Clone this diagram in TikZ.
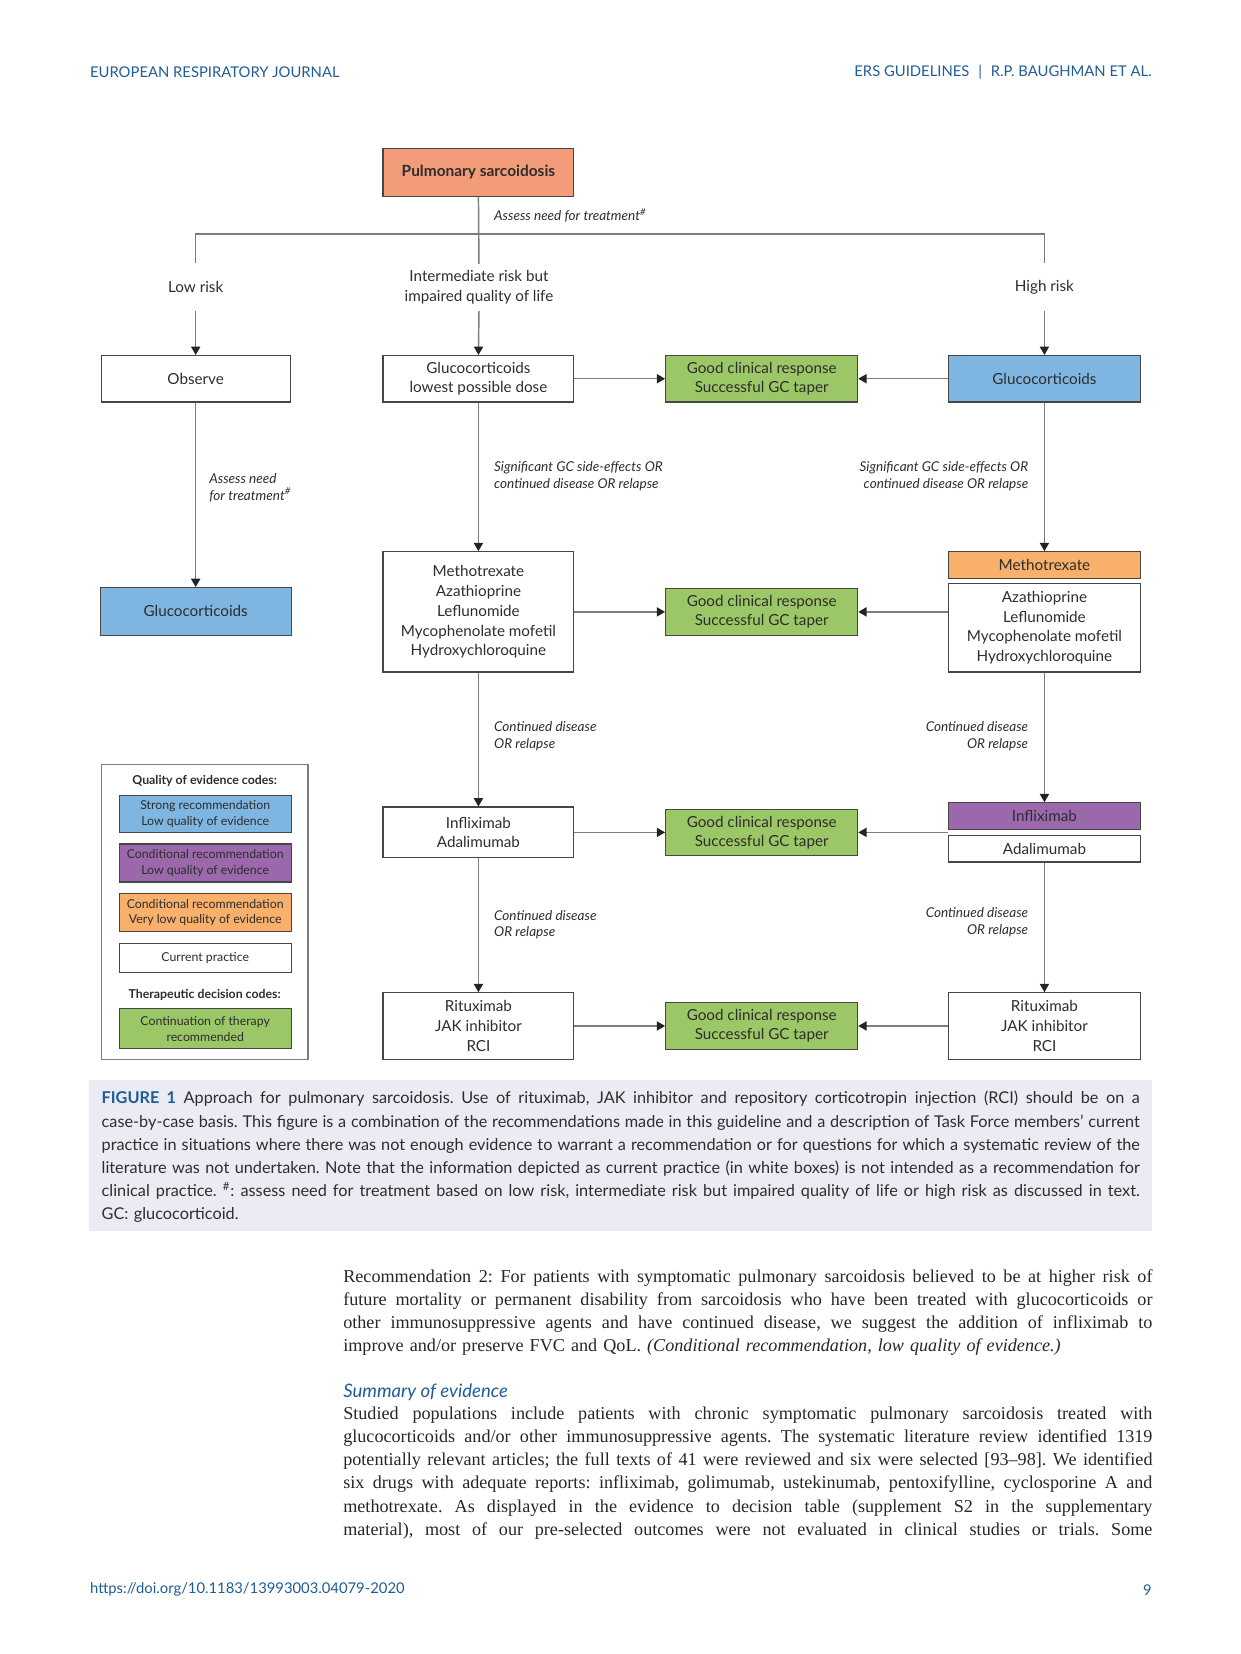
\documentclass[tikz,border=0pt]{standalone}
\usepackage{fontspec}
\setmainfont{Liberation Serif}
\newfontfamily\figsans{Lato}
\usetikzlibrary{arrows.meta}
\newdimen\upx \upx=0.5058pt
\definecolor{salmon}{RGB}{242,156,122}
\definecolor{bluebox}{RGB}{126,182,225}
\definecolor{greenbox}{RGB}{156,199,102}
\definecolor{purplebox}{RGB}{156,104,172}
\definecolor{orangebox}{RGB}{248,176,106}
\definecolor{bordc}{RGB}{70,70,70}
\definecolor{linec}{RGB}{125,125,125}
\definecolor{arrc}{RGB}{35,35,35}
\definecolor{txtc}{RGB}{45,45,45}
\definecolor{hdrblue}{RGB}{32,92,150}
\definecolor{capbg}{RGB}{235,236,243}
\newcommand{\jl}[2]{\makebox[#1][s]{\spaceskip=0pt\xspaceskip=0pt\frenchspacing #2}}
\begin{document}
\begin{tikzpicture}[x=0.5058pt,y=-0.5058pt,
  fbox/.style={draw=bordc,line width=0.55pt,inner sep=0pt,align=center,text=txtc,
    font=\figsans\fontsize{7.3}{9.5}\selectfont},
  gbox/.style={fbox,fill=greenbox,minimum width=182\upx,minimum height=44\upx,
    font=\figsans\fontsize{7.3}{9.2}\selectfont},
  lbox/.style={fbox,minimum width=163\upx,font=\figsans\fontsize{5.9}{7.6}\selectfont},
  lab/.style={inner sep=0pt,align=center,text=txtc,minimum height=44\upx,
    font=\figsans\fontsize{7.3}{9.5}\selectfont},
  itl/.style={inner sep=0pt,text=txtc,font=\figsans\itshape\fontsize{6.5}{8.1}\selectfont},
  conn/.style={draw=linec,line width=0.7pt},
  arr/.style={conn,-{Triangle[length=4pt,width=4.4pt,color=arrc]}},
  hdr/.style={inner sep=0pt,text=hdrblue,font=\figsans\fontsize{7.1}{9}\selectfont}
]
\useasboundingbox (0,0) rectangle (1176.3,1567.8);

% header
\node[hdr,anchor=west] (hl) at (85,68) {EUROPEAN RESPIRATORY JOURNAL};
\node[hdr,anchor=east] (hr) at (1092,68) {ERS GUIDELINES\hspace{0.6em}|\hspace{0.6em}R.P. BAUGHMAN ET AL.};

% top
\node[fbox,fill=salmon,minimum width=181\upx,minimum height=45\upx,
  font=\figsans\bfseries\fontsize{7.4}{9}\selectfont] (ps) at (453.5,163.5) {Pulmonary sarcoidosis};
\node[itl,anchor=west] (assess) at (468,204) {Assess need for treatment\textsuperscript{\#}};

\node[lab] (low) at (185.5,272) {Low risk};
\node[lab] (im) at (454,272.5) {Intermediate risk but\\impaired quality of life};
\node[lab] (high) at (990,272) {High risk};
\coordinate (hline) at (0,222);

\draw[conn] (ps.south) -- (im.north);
\draw[conn] (low.north) -- (low.north |- hline) -- (high.north |- hline) -- (high.north);

% row 1
\node[fbox,minimum width=179\upx,minimum height=44\upx] (obs) at (185.5,359) {Observe};
\node[fbox,minimum width=181\upx,minimum height=44\upx] (gcl) at (453.5,359) {Glucocorticoids\\lowest possible dose};
\node[gbox] (g1) at (722,359) {Good clinical response\\Successful GC taper};
\node[fbox,fill=bluebox,minimum width=182\upx,minimum height=44\upx] (gch) at (990,359) {Glucocorticoids};

\draw[arr] (low.south) -- (obs.north);
\draw[arr] (im.south) -- (gcl.north);
\draw[arr] (high.south) -- (gch.north);
\draw[arr] (gcl.east) -- (g1.west);
\draw[arr] (gch.west) -- (g1.east);

% row 2
\node[fbox,fill=bluebox,minimum width=181\upx,minimum height=45\upx] (gcb) at (185.5,579.5) {Glucocorticoids};
\node[fbox,minimum width=181\upx,minimum height=114\upx] (m2) at (453.5,580) {Methotrexate\\Azathioprine\\Leflunomide\\Mycophenolate mofetil\\Hydroxychloroquine};
\node[gbox] (g2) at (722,580) {Good clinical response\\Successful GC taper};
\node[fbox,fill=orangebox,minimum width=182\upx,minimum height=25\upx] (mtx) at (990,535.5) {Methotrexate};
\node[fbox,minimum width=182\upx,minimum height=84\upx] (aza) at (990,595) {Azathioprine\\Leflunomide\\Mycophenolate mofetil\\Hydroxychloroquine};

\draw[arr] (obs.south) -- (gcb.north);
\node[itl,anchor=west,align=left] (l1) at (198,462) {Assess need\\for treatment\textsuperscript{\#}};
\draw[arr] (gcl.south) -- (m2.north);
\node[itl,anchor=west,align=left] (l2) at (468,451) {Significant GC side-effects OR\\continued disease OR relapse};
\draw[arr] (gch.south) -- (mtx.north);
\node[itl,anchor=east,align=right] (l3) at (975,451) {Significant GC side-effects OR\\continued disease OR relapse};
\draw[arr] (m2.east) -- (g2.west);
\draw[arr] (aza.west |- g2.east) -- (g2.east);

% row 3
\node[fbox,minimum width=181\upx,minimum height=48\upx] (ia) at (453.5,789) {Infliximab\\Adalimumab};
\node[gbox] (g3) at (722,789) {Good clinical response\\Successful GC taper};
\node[fbox,fill=purplebox,minimum width=182\upx,minimum height=25\upx] (inf) at (990,773.5) {Infliximab};
\node[fbox,minimum width=182\upx,minimum height=25\upx] (ada) at (990,804.5) {Adalimumab};

\draw[arr] (m2.south) -- (ia.north);
\node[itl,anchor=west,align=left] (l4) at (468,697.5) {Continued disease\\OR relapse};
\draw[arr] (aza.south) -- (inf.north);
\node[itl,anchor=east,align=right] (l5) at (975,697.5) {Continued disease\\OR relapse};
\draw[arr] (ia.east) -- (g3.west);
\draw[arr] (inf.west |- g3.east) -- (g3.east);

% row 4
\node[fbox,minimum width=181\upx,minimum height=63\upx] (rj) at (453.5,972.5) {Rituximab\\JAK inhibitor\\RCI};
\node[gbox] (g4) at (722,972.5) {Good clinical response\\Successful GC taper};
\node[fbox,minimum width=182\upx,minimum height=63\upx] (rjr) at (990,972.5) {Rituximab\\JAK inhibitor\\RCI};

\draw[arr] (ia.south) -- (rj.north);
\node[itl,anchor=west,align=left] (l6) at (468,876.5) {Continued disease\\OR relapse};
\draw[arr] (ada.south) -- (rjr.north);
\node[itl,anchor=east,align=right] (l7) at (975,874) {Continued disease\\OR relapse};
\draw[arr] (rj.east) -- (g4.west);
\draw[arr] (rjr.west) -- (g4.east);

% legend
\node[draw=linec,line width=0.6pt,minimum width=196\upx,minimum height=279\upx,inner sep=0pt] (leg) at (194,864.5) {};
\node[inner sep=0pt,text=txtc,font=\figsans\bfseries\fontsize{5.9}{7}\selectfont] (lt1) at (194,740) {Quality of evidence codes:};
\node[lbox,fill=bluebox,minimum height=35\upx] (lb1) at (194.5,771.5) {Strong recommendation\\Low quality of evidence};
\node[lbox,fill=purplebox,minimum height=36\upx] (lb2) at (194.5,818) {Conditional recommendation\\Low quality of evidence};
\node[lbox,fill=orangebox,minimum height=36\upx] (lb3) at (194.5,865) {Conditional recommendation\\Very low quality of evidence};
\node[lbox,minimum height=28\upx] (lb4) at (194.5,908) {Current practice};
\node[inner sep=0pt,text=txtc,font=\figsans\bfseries\fontsize{5.9}{7}\selectfont] (lt2) at (194,943) {Therapeutic decision codes:};
\node[lbox,fill=greenbox,minimum height=38\upx] (lb5) at (194.5,975) {Continuation of therapy\\recommended};

% caption
\fill[capbg] (84,1024) rectangle (1092,1167);
\node[anchor=north west,inner sep=0pt,text width=984\upx,align=left,text=txtc,
  font=\figsans\fontsize{7.8}{11.13}\selectfont] (cap) at (96,1034) {%
\jl{984\upx}{{\color{hdrblue}\bfseries FIGURE 1} Approach for pulmonary sarcoidosis. Use of rituximab, JAK inhibitor and repository corticotropin injection (RCI) should be on a}\\
\jl{984\upx}{case-by-case basis. This figure is a combination of the recommendations made in this guideline and a description of Task Force members’ current}\\
\jl{984\upx}{practice in situations where there was not enough evidence to warrant a recommendation or for questions for which a systematic review of the}\\
\jl{984\upx}{literature was not undertaken. Note that the information depicted as current practice (in white boxes) is not intended as a recommendation for}\\
\jl{984\upx}{clinical practice. \textsuperscript{\#}: assess need for treatment based on low risk, intermediate risk but impaired quality of life or high risk as discussed in text.}\\
GC: glucocorticoid.};

% body text
\node[anchor=north west,inner sep=0pt,text width=767\upx,align=left,text=black!85,
  font=\fontsize{8.7}{11.13}\selectfont] (body) at (325,1203) {%
\jl{767\upx}{Recommendation 2: For patients with symptomatic pulmonary sarcoidosis believed to be at higher risk of}\\
\jl{767\upx}{future mortality or permanent disability from sarcoidosis who have been treated with glucocorticoids or}\\
\jl{767\upx}{other immunosuppressive agents and have continued disease, we suggest the addition of infliximab to}\\
improve and/or preserve FVC and QoL. \textit{(Conditional recommendation, low quality of evidence.)}};
\node[anchor=west,inner sep=0pt,text=hdrblue,font=\figsans\itshape\fontsize{8.9}{10}\selectfont] (soe) at (325,1320) {Summary of evidence};
\node[anchor=north west,inner sep=0pt,text width=767\upx,align=left,text=black!85,
  font=\fontsize{8.7}{11.13}\selectfont] (body2) at (325,1333) {%
\jl{767\upx}{Studied populations include patients with chronic symptomatic pulmonary sarcoidosis treated with}\\
\jl{767\upx}{glucocorticoids and/or other immunosuppressive agents. The systematic literature review identified 1319}\\
\jl{767\upx}{potentially relevant articles; the full texts of 41 were reviewed and six were selected [93–98]. We identified}\\
\jl{767\upx}{six drugs with adequate reports: infliximab, golimumab, ustekinumab, pentoxifylline, cyclosporine A and}\\
\jl{767\upx}{methotrexate. As displayed in the evidence to decision table (supplement S2 in the supplementary}\\
\jl{767\upx}{material), most of our pre-selected outcomes were not evaluated in clinical studies or trials. Some}};

% footer
\node[hdr,anchor=west] (doi) at (85,1507) {https://doi.org/10.1183/13993003.04079-2020};
\node[hdr,anchor=east] (pg) at (1092,1507) {9};
\end{tikzpicture}
\end{document}
